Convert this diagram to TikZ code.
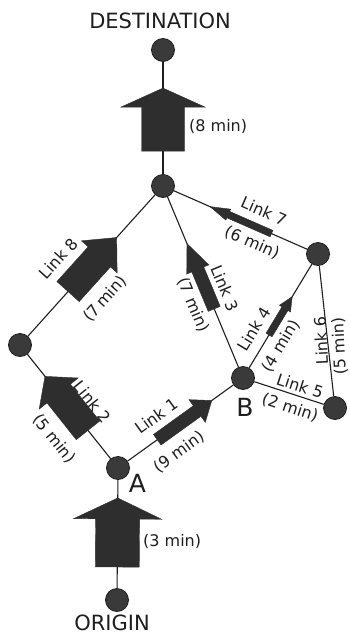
\documentclass[tikz,border=0pt]{standalone}
\usepackage{fontspec}
\setmainfont{DejaVu Sans}
\usetikzlibrary{calc,backgrounds}
\definecolor{ink}{HTML}{1E1E1E}
\definecolor{arrowfill}{HTML}{2E2E2E}
\definecolor{nodefill}{HTML}{3A3A3A}
\tikzset{
  net/.style={circle, fill=nodefill, draw=ink, line width=0.8pt, minimum size=23pt, inner sep=0pt},
  link/.style={draw=ink, line width=1.1pt},
  lab/.style={font=\fontsize{16}{16}\selectfont, text=ink, inner sep=0pt},
  title/.style={font=\fontsize{21}{21}\selectfont, text=ink, inner sep=0pt},
  letter/.style={font=\fontsize{25}{25}\selectfont, text=ink, inner sep=0pt},
  flow/.style={fill=arrowfill, draw=arrowfill, line width=0.4pt, line join=miter},
}
% #1 from node, #2 to node, #3 t tail, #4 t tip, #5 shaft half width, #6 head half width, #7 head length
\newcommand{\flowarrow}[7]{%
  \coordinate (fa-tail) at ($(#1)!#3!(#2)$);
  \coordinate (fa-tip) at ($(#1)!#4!(#2)$);
  \coordinate (fa-base) at ($(fa-tip)!#7!(fa-tail)$);
  \path[flow] ($(fa-tail)!#5!90:(fa-tip)$) -- ($(fa-base)!#5!90:(fa-tip)$)
    -- ($(fa-base)!#6!90:(fa-tip)$) -- (fa-tip) -- ($(fa-base)!#6!-90:(fa-tip)$)
    -- ($(fa-base)!#5!-90:(fa-tip)$) -- ($(fa-tail)!#5!-90:(fa-tip)$) -- cycle;
}
\begin{document}
\begin{tikzpicture}[x=1pt,y=-1pt]
\useasboundingbox (0,0) rectangle (349,640);
% nodes
\node[net] (D) at (163,50) {};
\node[net] (T) at (163,186) {};
\node[net] (R) at (318,254) {};
\node[net] (L) at (20,345) {};
\node[net] (B) at (243,378) {};
\node[net] (F) at (335,408) {};
\node[net] (A) at (118,468) {};
\node[net] (O) at (117,600) {};
\begin{pgfonlayer}{background}
\draw[link] (D) -- (T);
\draw[link] (T) -- (R);
\draw[link] (T) -- (L);
\draw[link] (T) -- (B);
\draw[link] (R) -- (B);
\draw[link] (R) -- (F);
\draw[link] (B) -- (F);
\draw[link] (L) -- (A);
\draw[link] (A) -- (B);
\draw[link] (A) -- (O);
% flow arrows
\flowarrow{T}{D}{0.257}{0.72}{21.5pt}{42pt}{19pt}
\flowarrow{O}{A}{0.25}{0.773}{22pt}{44pt}{21pt}
\flowarrow{L}{T}{0.336}{0.676}{15pt}{24pt}{26pt}
\flowarrow{A}{L}{0.306}{0.745}{15pt}{25pt}{22pt}
\flowarrow{A}{B}{0.314}{0.75}{6.5pt}{14pt}{18pt}
\flowarrow{B}{T}{0.36}{0.70}{6.5pt}{12pt}{28pt}
\flowarrow{B}{R}{0.347}{0.656}{3.5pt}{6.5pt}{14pt}
\flowarrow{R}{T}{0.30}{0.697}{3.5pt}{6pt}{20pt}
\end{pgfonlayer}
% titles
\node[title] (dest) at (160,21) {DESTINATION};
\node[title] (orig) at (112,623) {ORIGIN};
\node[letter] (la) at (137.5,483.5) {A};
\node[letter] (lb) at (245,407) {B};
% times on big arrows
\node[lab, anchor=west] (t8) at (189,126) {(8 min)};
\node[lab, anchor=west] (t3) at (143,541) {(3 min)};
% link labels
\node[lab, rotate=48] (l8) at (58.5,258.5) {Link 8};
\node[lab, rotate=48] (m8) at (105.5,299) {(7\,min)};
\node[lab, rotate=-51.5] (l2) at (92.5,402) {Link 2};
\node[lab, rotate=-51.5] (m2) at (54,439) {(5 min)};
\node[lab, rotate=35.8] (l1) at (156,416) {Link 1};
\node[lab, rotate=35.8] (m1) at (179,452) {(9 min)};
\node[lab, rotate=-67.4] (l3) at (225,288) {Link 3};
\node[lab, rotate=-67.4] (m3) at (193,305) {(7 min)};
\node[lab, rotate=58.8] (l4) at (254,329) {Link 4};
\node[lab, rotate=58.8] (m4) at (281,346) {(4 min)};
\node[lab, rotate=-23.7] (l7) at (264,211) {Link 7};
\node[lab, rotate=-23.7] (m7) at (252,243) {(6 min)};
\node[lab, rotate=-18.1] (l5) at (300,386) {Link 5};
\node[lab, rotate=-18.1] (m5) at (290,408) {(2 min)};
\node[lab, rotate=93] (l6) at (321,341) {Link 6};
\node[lab, rotate=93] (m6) at (339.5,346) {(5 min)};
\end{tikzpicture}
\end{document}
